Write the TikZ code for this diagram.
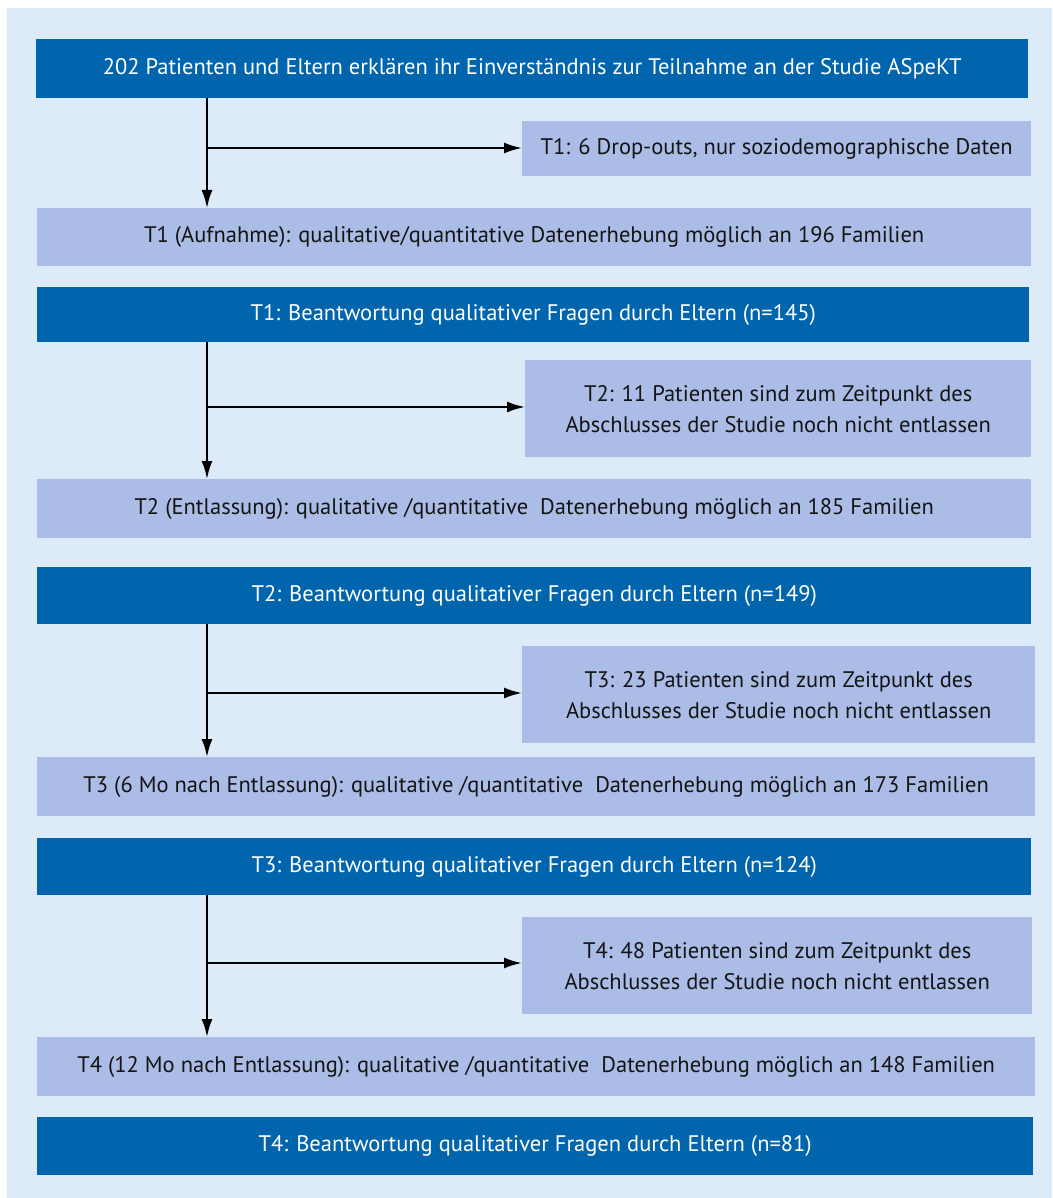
\documentclass[tikz,border=0pt]{standalone}
\usepackage{fontspec}
\setmainfont{PT Sans}
\usetikzlibrary{arrows.meta}
\definecolor{bgblue}{RGB}{221,235,248}
\definecolor{darkbox}{RGB}{0,101,173}
\definecolor{lightbox}{RGB}{171,189,230}
\definecolor{txt}{RGB}{20,20,20}
\tikzset{
  base/.style={anchor=north west, inner sep=0pt, align=center, font=\fontsize{22.5}{31}\selectfont},
  darkb/.style={base, fill=darkbox, text=white},
  lightb/.style={base, fill=lightbox, text=txt},
  arr/.style={draw=black, line width=2.2pt, -{Latex[length=18pt,width=11pt]}}
}
\begin{document}
\begin{tikzpicture}[x=1pt,y=-1pt]
\useasboundingbox (0,0) rectangle (1052,1198);
\fill[bgblue] (7,8) rectangle (1052,1198);

\node[darkb, minimum width=992pt, minimum height=59pt] (b1) at (36,39) {202 Patienten und Eltern erklären ihr Einverständnis zur Teilnahme an der Studie ASpeKT};
\node[lightb, minimum width=509pt, minimum height=55pt] (s1) at (522,121) {T1: 6 Drop-outs, nur soziodemographische Daten};
\node[lightb, minimum width=994pt, minimum height=58pt] (b2) at (37,208) {T1 (Aufnahme): qualitative/quantitative Datenerhebung möglich an 196 Familien};

\node[darkb, minimum width=992pt, minimum height=55pt] (b3) at (37,287) {T1: Beantwortung qualitativer Fragen durch Eltern (n=145)};
\node[lightb, minimum width=506pt, minimum height=97pt] (s2) at (525,360) {T2: 11 Patienten sind zum Zeitpunkt des\\Abschlusses der Studie noch nicht entlassen};
\node[lightb, minimum width=994pt, minimum height=59pt] (b4) at (37,479) {T2 (Entlassung): qualitative /quantitative\ \ Datenerhebung möglich an 185 Familien};

\node[darkb, minimum width=994pt, minimum height=57pt] (b5) at (37,567) {T2: Beantwortung qualitativer Fragen durch Eltern (n=149)};
\node[lightb, minimum width=513pt, minimum height=97pt] (s3) at (522,646) {T3: 23 Patienten sind zum Zeitpunkt des\\Abschlusses der Studie noch nicht entlassen};
\node[lightb, minimum width=998pt, minimum height=59pt] (b6) at (37,757) {T3 (6 Mo nach Entlassung): qualitative /quantitative\ \ Datenerhebung möglich an 173 Familien};

\node[darkb, minimum width=994pt, minimum height=57pt] (b7) at (37,838) {T3: Beantwortung qualitativer Fragen durch Eltern (n=124)};
\node[lightb, minimum width=510pt, minimum height=97pt] (s4) at (522,917) {T4: 48 Patienten sind zum Zeitpunkt des\\Abschlusses der Studie noch nicht entlassen};
\node[lightb, minimum width=998pt, minimum height=59pt] (b8) at (37,1037) {T4 (12 Mo nach Entlassung): qualitative /quantitative\ \ Datenerhebung möglich an 148 Familien};

\node[darkb, minimum width=996pt, minimum height=58pt] (b9) at (37,1117) {T4: Beantwortung qualitativer Fragen durch Eltern (n=81)};

\coordinate (c1) at (207,148);
\coordinate (c2) at (207,407);
\coordinate (c3) at (207,693);
\coordinate (c4) at (207,963);

\draw[arr] (b1.south -| c1) -- (b2.north -| c1);
\draw[arr] (c1) -- (c1 -| s1.west);
\draw[arr] (b3.south -| c2) -- (b4.north -| c2);
\draw[arr] (c2) -- (c2 -| s2.west);
\draw[arr] (b5.south -| c3) -- (b6.north -| c3);
\draw[arr] (c3) -- (c3 -| s3.west);
\draw[arr] (b7.south -| c4) -- (b8.north -| c4);
\draw[arr] (c4) -- (c4 -| s4.west);
\end{tikzpicture}
\end{document}
